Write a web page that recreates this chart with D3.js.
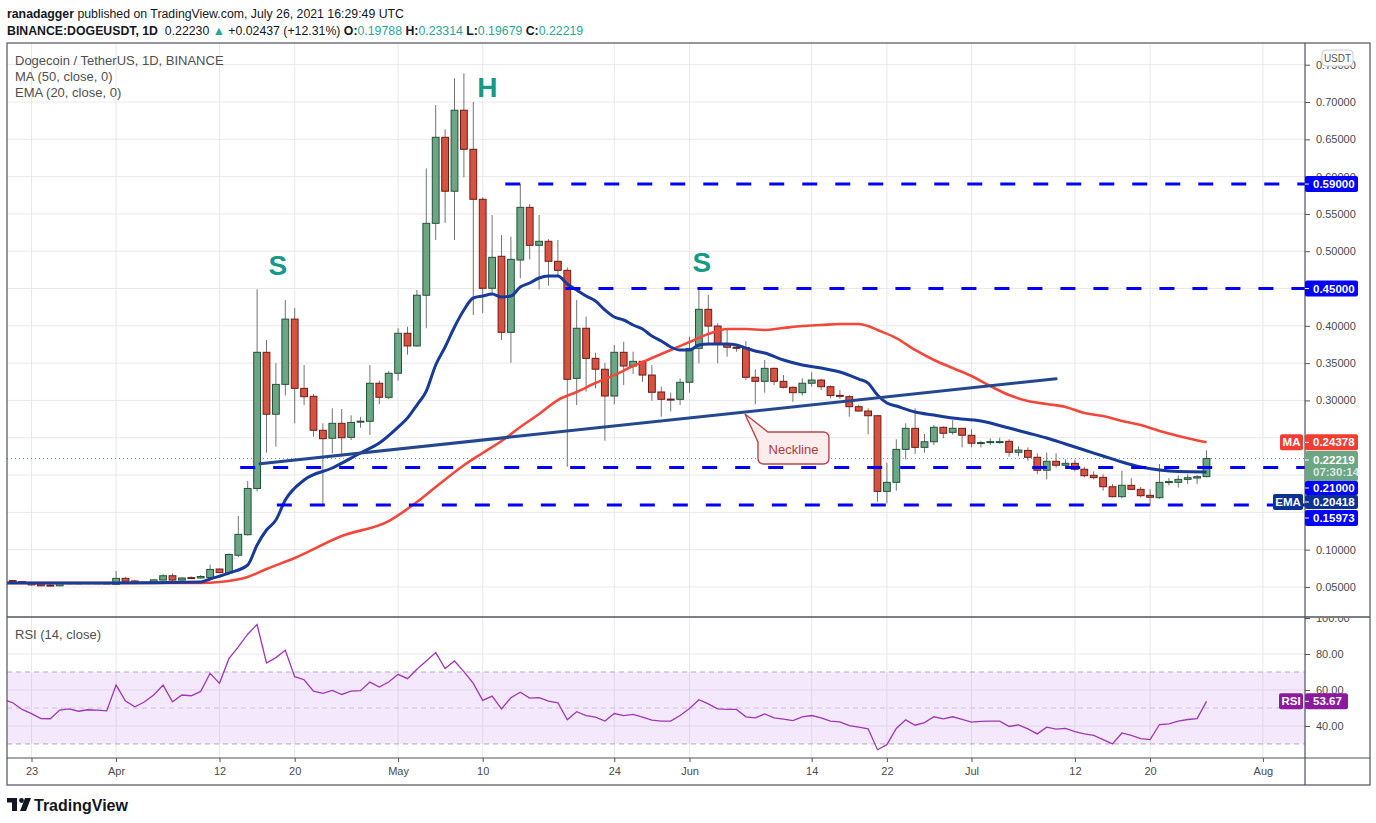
<!DOCTYPE html>
<html><head><meta charset="utf-8">
<script src="https://cdn.jsdelivr.net/npm/d3@7"></script>
<style>
body{margin:0;background:#fff;}
svg{display:block;font-family:"Liberation Sans",Arial,sans-serif;}
.ax text{font-size:11px;fill:#4a4a4a;font-family:"Liberation Sans",Arial,sans-serif;}
.ax line{stroke:#555;}
.ax .domain{display:none;}
</style></head><body>
<svg id="c" width="1376" height="823"></svg>
<script>
// ---------- DATA ----------
const startDate = "2021-03-21";   // day index 0
const opens = [
.0585,.0572,.0556,.0540,.0525,.0515,.0552,.0553,.0555,.0556,.0554,
.0535,.0615,.0580,.0555,.0563,.0592,.0650,.0592,.0625,.0620,
.0625,.0740,.0690,.0925,.1200,.1820,.3645,.2815,.3215,.4090,
.3162,.3055,.2600,.2493,.2693,.2505,.2712,.2720,.3230,.3042,
.3364,.3900,.3730,.4410,.5374,.6527,.5804,.6890,.6366,.5696,
.4503,.4932,.3913,.4882,.5588,.5079,.5133,.4865,.4744,.3296,
.3967,.3564,.3418,.3059,.3645,.3461,.3524,.3340,.3113,.3018,
.3015,.3243,.3698,.4221,.3997,.3752,.3712,.3710,.3310,.3256,
.3430,.3256,.3176,.3104,.3230,.3273,.3184,.3068,.3050,.2916,
.2858,.2795,.1781,.1902,.2344,.2626,.2371,.2446,.2640,.2572,
.2626,.2533,.2428,.2440,.2444,.2452,.2305,.2330,.2238,.2064,
.2184,.2131,.2157,.2077,.1996,.1969,.1843,.1710,.1862,.1808,
.1728,.1696,.1905,.1902,.1942,.1960,.19788];
const highs = [
.0595,.0580,.0562,.0548,.0545,.0562,.0565,.0562,.0562,.0560,.0560,
.0715,.0630,.0590,.0570,.0603,.0672,.0680,.0628,.0640,.0660,
.0800,.0745,.0950,.1450,.1920,.4490,.3810,.3500,.4346,.4239,
.3475,.3086,.2693,.2894,.2885,.2800,.2780,.3475,.3265,.3394,
.3967,.3988,.4480,.6110,.6960,.6634,.7318,.7385,.7000,.5723,
.5485,.5217,.5195,.5900,.5633,.5485,.5160,.5150,.4784,.4346,
.4122,.3639,.3505,.3743,.3787,.3653,.3532,.3475,.3184,.3105,
.3296,.3854,.4480,.4413,.4033,.3944,.3752,.3796,.3417,.3542,
.3440,.3340,.3185,.3296,.3377,.3290,.3200,.3140,.3072,.2940,
.2894,.2800,.2165,.2479,.2693,.2894,.2550,.2670,.2650,.2737,
.2630,.2613,.2460,.2490,.2500,.2480,.2385,.2370,.2291,.2300,
.2291,.2210,.2210,.2110,.2050,.2010,.1879,.2059,.1956,.1840,
.1808,.2148,.1960,.1996,.2010,.2000,.23314];
const lows = [
.0572,.0550,.0520,.0508,.0505,.0510,.0545,.0546,.0548,.0548,.0540,
.0530,.0570,.0548,.0552,.0558,.0585,.0580,.0585,.0612,.0612,
.0620,.0685,.0680,.0900,.1190,.1780,.2300,.2380,.3065,.2693,
.2938,.2513,.1594,.2290,.2246,.2469,.2635,.2536,.2948,.3015,
.3265,.3613,.3720,.3967,.5150,.5380,.5150,.5990,.4145,.4168,
.4413,.3810,.3505,.4637,.4891,.4489,.4538,.4681,.2112,.2938,
.3117,.3162,.2460,.2948,.3206,.3354,.3250,.2996,.2782,.2855,
.2938,.3104,.3497,.3765,.3497,.3586,.3653,.3273,.2948,.3104,
.3206,.3160,.2983,.3065,.3184,.3140,.3028,.3020,.2782,.2850,
.2546,.1642,.1620,.1790,.2210,.2282,.2300,.2402,.2492,.2540,
.2371,.2371,.2371,.2400,.2420,.2246,.2250,.2193,.2013,.1942,
.2100,.2100,.2050,.1969,.1942,.1790,.1700,.1690,.1800,.1700,
.1585,.1680,.1860,.1830,.1880,.1880,.19679];
const closes = [
.0575,.0556,.0527,.0515,.0522,.0555,.0556,.0555,.0557,.0553,.0552,
.0615,.0575,.0553,.0563,.0595,.0650,.0592,.0620,.0620,.0640,
.0735,.0692,.0935,.1205,.1820,.3645,.2815,.3215,.4090,.3162,
.3050,.2600,.2487,.2693,.2500,.2705,.2722,.3230,.3042,.3364,
.3900,.3730,.4410,.5374,.6527,.5804,.6890,.6366,.5696,.4503,
.4918,.3913,.4891,.5588,.5079,.5133,.4865,.4744,.3283,.3967,
.3564,.3418,.3059,.3645,.3461,.3524,.3340,.3109,.3015,.3012,
.3243,.3698,.4221,.3997,.3752,.3713,.3705,.3310,.3256,.3430,
.3256,.3176,.3104,.3230,.3273,.3184,.3065,.3055,.2916,.2858,
.2795,.1781,.1902,.2344,.2626,.2371,.2446,.2640,.2560,.2626,
.2533,.2426,.2435,.2448,.2448,.2305,.2335,.2238,.2064,.2184,
.2131,.2157,.2077,.1991,.1965,.1843,.1710,.1862,.1808,.1723,
.1702,.1902,.1912,.1942,.1964,.1978,.22219];

const emaDays = [-1,0,10,20,21,23,25,26,27,28,29,31,34,37,39,41,42,43,44,45,46,47,48,49,50,51,52,53,54,55,56,57,58,59,60,61,62,63,64,65,66,67,68,69,70,71,72,73,74,76,77,78,79,80,82,84,86,88,90,91,92,93,94,96,98,100,103,106,108,110,112,114,116,118,120,122,124,127];
const emaValues = [0.0552,0.0552,0.0552,0.0566,0.0606,0.0686,0.0794,0.1062,0.1263,0.1397,0.1665,0.1933,0.2094,0.2295,0.2429,0.2643,0.2764,0.2938,0.3126,0.3475,0.3716,0.3984,0.4212,0.4373,0.4399,0.4426,0.4386,0.4399,0.4520,0.4574,0.4641,0.4668,0.4668,0.4560,0.4480,0.4399,0.4332,0.4212,0.4118,0.4078,0.4011,0.3957,0.3863,0.3796,0.3716,0.3676,0.3676,0.3743,0.3756,0.3756,0.3743,0.3702,0.3662,0.3635,0.3542,0.3475,0.3434,0.3381,0.3287,0.3233,0.3072,0.2965,0.2925,0.2845,0.2804,0.2764,0.2724,0.2630,0.2563,0.2496,0.2416,0.2335,0.2255,0.2174,0.2107,0.2067,0.2047,0.20418];

const maDays = [-1,0,20,22,25,27,30,35,40,43,45,48,50,52,54,56,58,60,62,64,66,68,70,72,74,76,78,80,82,84,86,88,90,91,92,94,96,98,100,102,104,106,108,110,112,114,116,118,120,122,124,127];
const maValues = [0.0552,0.0552,0.0552,0.0566,0.0633,0.0740,0.0887,0.1182,0.1383,0.1638,0.1839,0.2131,0.2295,0.2456,0.2643,0.2818,0.3005,0.3113,0.3233,0.3340,0.3461,0.3568,0.3676,0.3783,0.3890,0.3957,0.3957,0.3944,0.3971,0.3997,0.4011,0.4024,0.4024,0.3997,0.3944,0.3836,0.3676,0.3542,0.3434,0.3327,0.3193,0.3072,0.2992,0.2952,0.2912,0.2831,0.2791,0.2724,0.2670,0.2590,0.2523,0.24378];

const rsiStartDay = -1;
const rsiValues = [54.7,
52.9,49.2,46.9,44.1,44.0,48.8,49.5,48.2,49.0,48.8,48.4,
62.7,53.8,50.7,53.3,57.2,62.7,53.4,57.2,56.8,59.2,
69.3,63.7,77.4,84.0,91.0,96.4,75.0,78.0,82.1,67.4,
65.7,59.4,58.1,59.8,57.5,59.4,59.6,64.4,61.6,64.4,
68.7,66.3,71.5,76.1,80.8,71.9,76.1,70.2,63.7,54.2,
56.6,49.5,55.7,58.8,55.5,55.7,53.8,52.9,43.4,47.9,
45.8,44.9,42.7,46.9,45.8,46.4,44.9,43.2,42.7,42.7,
45.8,49.7,54.6,52.3,49.5,49.2,49.2,45.1,44.5,46.7,
44.5,43.8,43.0,45.1,45.8,44.5,42.7,42.3,40.2,39.3,
38.4,26.8,29.6,38.6,43.4,40.4,41.9,45.1,44.0,45.1,
43.6,42.1,42.5,42.7,42.7,39.7,40.6,38.4,35.6,39.3,
38.2,38.7,36.9,35.6,34.8,32.4,30.0,36.1,34.8,33.0,
32.4,40.8,41.2,42.7,43.6,44.1,53.67];

const priceTicks = [0.05,0.10,0.15,0.20,0.25,0.30,0.35,0.40,0.45,0.50,0.55,0.60,0.65,0.70,0.75];
const hiddenPriceLabels = [0.15,0.20,0.25,0.45];   // covered by the coloured tags in the reference
const rsiTicks = [40,60,80,100];
const rsiGrid = [40,60,80];
const rsiLevels = [70,50,30];
const dateTicks = ["2021-03-23","2021-04-01","2021-04-12","2021-04-20","2021-05-01","2021-05-10","2021-05-24","2021-06-01","2021-06-14","2021-06-22","2021-07-01","2021-07-12","2021-07-20","2021-08-01"];
const dateLabels = ["23","Apr","12","20","May","10","24","Jun","14","22","Jul","12","20","Aug"];

const levelValues = [0.59,0.45,0.21,0.15973];
const levelStartDays = [52.4,58.8,24.2,28.1];
const necklineDays = [26.3,111.0];
const necklineValues = [0.2150,0.3290];
const annoTexts = ["S","H","S"];
const annoDays = [28.2,50.5,73.3];
const annoValues = [0.4815,0.7188,0.4855];
const calloutDay = 77.9, calloutValue = 0.2818, calloutText = "Neckline";

const lastPrice = 0.22219, maLast = 0.24378, emaLast = 0.20418, rsiLast = 53.67;

// ---------- SCALES ----------
const day0 = Date.parse(startDate + "T00:00:00Z");
const dayDate = d => new Date(day0 + d * 864e5);
const x = d3.scaleUtc().domain([dayDate(0), dayDate(133)]).range([12.7, 1262.9]);
const xd = d => x(dayDate(d));
const y = d3.scaleLinear().domain([0.0097, 0.7791]).range([617, 43]);
const yr = d3.scaleLinear().domain([22.2, 100]).range([758, 618]);

const L = 7, R = 1305, T = 43, MB = 617, RB = 758, AB = 785, OR = 1370;
const svg = d3.select("#c");
svg.append("rect").attr("width",1376).attr("height",823).attr("fill","#fff");
const defs = svg.append("defs");
defs.append("clipPath").attr("id","cm").append("rect").attr("x",L).attr("y",T).attr("width",R-L).attr("height",MB-T);
defs.append("clipPath").attr("id","cr").append("rect").attr("x",L).attr("y",MB).attr("width",R-L).attr("height",RB-MB);
defs.append("clipPath").attr("id","cpa").append("rect").attr("x",R).attr("y",T+1).attr("width",OR-R).attr("height",MB-T-1);
defs.append("clipPath").attr("id","cra").append("rect").attr("x",R).attr("y",MB+1).attr("width",OR-R).attr("height",RB-MB-1);

// ---------- GRID ----------
const gridColor = "#e9e9ea";
const g = svg.append("g");
g.selectAll(".hg").data(priceTicks).join("line")
  .attr("x1",L).attr("x2",R).attr("y1",d=>y(d)).attr("y2",d=>y(d)).attr("stroke",gridColor);
g.selectAll(".vg").data(dateTicks).join("line")
  .attr("x1",d=>x(new Date(d+"T00:00:00Z"))).attr("x2",d=>x(new Date(d+"T00:00:00Z")))
  .attr("y1",T).attr("y2",RB).attr("stroke",gridColor);
g.selectAll(".rg").data(rsiGrid).join("line")
  .attr("x1",L).attr("x2",R).attr("y1",d=>yr(d)).attr("y2",d=>yr(d)).attr("stroke",gridColor);

// RSI band
svg.append("rect").attr("x",L).attr("width",R-L).attr("y",yr(70)).attr("height",yr(30)-yr(70))
  .attr("fill","rgba(150,40,230,0.1)");
svg.selectAll(".rl").data(rsiLevels).join("line")
  .attr("x1",L).attr("x2",R).attr("y1",d=>yr(d)).attr("y2",d=>yr(d))
  .attr("stroke",d=>d===50?"#cbbfd3":"#b3a8ba").attr("stroke-dasharray","5,4");

// ---------- MAIN PANE ----------
const m = svg.append("g").attr("clip-path","url(#cm)");
m.append("line").attr("x1",L).attr("x2",R).attr("y1",y(lastPrice)).attr("y2",y(lastPrice))
  .attr("stroke","#6b9c84").attr("stroke-dasharray","1,3");

const candles = opens.map((o,i)=>({i,o,h:highs[i],l:lows[i],c:closes[i]}));
const cg = m.append("g");
cg.selectAll(".w").data(candles).join("line")
  .attr("x1",d=>xd(d.i)).attr("x2",d=>xd(d.i)).attr("y1",d=>y(d.h)).attr("y2",d=>y(d.l))
  .attr("stroke","#737375").attr("stroke-width",1);
cg.selectAll(".b").data(candles).join("rect")
  .attr("x",d=>xd(d.i)-3.4).attr("width",6.8)
  .attr("y",d=>y(Math.max(d.o,d.c)))
  .attr("height",d=>Math.max(1,Math.abs(y(d.o)-y(d.c))))
  .attr("fill",d=>d.c>=d.o?"#6ca684":"#d65241")
  .attr("stroke",d=>d.c>=d.o?"#22533a":"#6e1c16").attr("stroke-width",1);

const lineGen = d3.line().x(d=>xd(d[0])).y(d=>y(d[1])).curve(d3.curveMonotoneX);
m.append("path").attr("d",lineGen(maDays.map((d,i)=>[d,maValues[i]])))
  .attr("fill","none").attr("stroke","#f4473b").attr("stroke-width",2.6);
m.append("path").attr("d",lineGen(emaDays.map((d,i)=>[d,emaValues[i]])))
  .attr("fill","none").attr("stroke","#183a98").attr("stroke-width",3);

// neckline
m.append("line").attr("x1",xd(necklineDays[0])).attr("y1",y(necklineValues[0]))
  .attr("x2",xd(necklineDays[1])).attr("y2",y(necklineValues[1]))
  .attr("stroke","#24488f").attr("stroke-width",3).attr("stroke-linecap","round");

// horizontal levels
m.selectAll(".lv").data(levelValues).join("line")
  .attr("x1",(d,i)=>xd(levelStartDays[i])).attr("x2",R)
  .attr("y1",d=>y(d)).attr("y2",d=>y(d))
  .attr("stroke","#0000ff").attr("stroke-width",3).attr("stroke-dasharray","15,18");

// S / H / S labels
m.selectAll(".an").data(annoTexts).join("text")
  .attr("x",(d,i)=>xd(annoDays[i])).attr("y",(d,i)=>y(annoValues[i]))
  .attr("text-anchor","middle").attr("dominant-baseline","central")
  .attr("font-size",28).attr("font-weight","bold").attr("fill","#16998a").text(d=>d);

// neckline callout
{
  const tx = xd(calloutDay), ty = y(calloutValue);
  const bx = tx+13, by = ty+18, bw = 71, bh = 32, r = 6;
  const p = `M${tx},${ty} L${bx+10},${by} L${bx+bw-r},${by} Q${bx+bw},${by} ${bx+bw},${by+r} L${bx+bw},${by+bh-r} Q${bx+bw},${by+bh} ${bx+bw-r},${by+bh} L${bx+r},${by+bh} Q${bx},${by+bh} ${bx},${by+bh-r} L${bx},${by+10} Z`;
  m.append("path").attr("d",p).attr("fill","#fcecec").attr("stroke","#b4474a").attr("stroke-width",1.4);
  m.append("text").attr("x",bx+bw/2).attr("y",by+bh/2+1).attr("text-anchor","middle")
    .attr("dominant-baseline","central").attr("font-size",13).attr("fill","#ab3b3d").text(calloutText);
}

// ---------- RSI PANE ----------
const rg = svg.append("g").attr("clip-path","url(#cr)");
rg.append("path").attr("d",d3.line().x((d,i)=>xd(rsiStartDay+i)).y(d=>yr(d))(rsiValues))
  .attr("fill","none").attr("stroke","#a035b5").attr("stroke-width",1.3);

// ---------- FRAME ----------
const fc = "#50535e";
svg.append("rect").attr("x",L).attr("y",T).attr("width",OR-L).attr("height",AB-T)
  .attr("fill","none").attr("stroke",fc).attr("stroke-width",1.2);
svg.append("line").attr("x1",L).attr("x2",OR).attr("y1",MB).attr("y2",MB).attr("stroke",fc).attr("stroke-width",1.6);
svg.append("line").attr("x1",L).attr("x2",OR).attr("y1",RB).attr("y2",RB).attr("stroke",fc).attr("stroke-width",1.2);
svg.append("line").attr("x1",R).attr("x2",R).attr("y1",T).attr("y2",AB).attr("stroke",fc).attr("stroke-width",1.2);

// ---------- AXES ----------
const f5 = d3.format(".5f");
svg.append("g").attr("clip-path","url(#cpa)").append("g").attr("class","ax").attr("transform",`translate(${R},0)`)
  .call(d3.axisRight(y).tickValues(priceTicks).tickFormat(d=>hiddenPriceLabels.includes(d)?"":f5(d)).tickSize(5).tickPadding(6))
  .call(s=>s.select(".domain").remove());
svg.append("g").attr("clip-path","url(#cra)").append("g").attr("class","ax").attr("transform",`translate(${R},0)`)
  .call(d3.axisRight(yr).tickValues(rsiTicks).tickFormat(d3.format(".2f")).tickSize(5).tickPadding(6))
  .call(s=>s.select(".domain").remove());
svg.append("g").attr("class","ax").attr("transform",`translate(0,${RB})`)
  .call(d3.axisBottom(x).tickValues(dateTicks.map(d=>new Date(d+"T00:00:00Z"))).tickFormat((d,i)=>dateLabels[i]).tickSize(4).tickPadding(5))
  .call(s=>s.select(".domain").remove());

// ---------- PRICE LABELS ----------
function box(cy, h, fill, lines, w=53){
  const gg = svg.append("g");
  gg.append("rect").attr("x",R).attr("y",cy-h/2).attr("width",w).attr("height",h).attr("rx",2).attr("fill",fill);
  gg.append("line").attr("x1",R).attr("x2",R+4).attr("y1",cy-(lines.length-1)*6).attr("y2",cy-(lines.length-1)*6).attr("stroke","#fff");
  lines.forEach((t,k)=>{
    gg.append("text").attr("x",R+8).attr("y",cy-(lines.length-1)*6+k*12).attr("dominant-baseline","central")
      .attr("font-size",11.5).attr("font-weight","bold").attr("fill",k===1?"#dbe9e0":"#fff").text(t);
  });
}
box(y(0.59),16,"#0000ff",[f5(0.59)]);
box(y(0.45),16,"#0000ff",[f5(0.45)]);
box(y(maLast),16,"#f23d33",[f5(maLast)]);
box(466,30,"#6ca684",[f5(lastPrice),"07:30:14"]);
box(488,14,"#0000ff",[f5(0.21)]);
box(502,14,"#0c3195",[f5(emaLast)]);
box(518,16,"#0000ff",[f5(0.15973)]);
box(yr(rsiLast),16,"#8c1a9d",[d3.format(".2f")(rsiLast)],43);
// side tags
function tag(cy, x0, w, fill, t){
  svg.append("rect").attr("x",x0).attr("y",cy-8).attr("width",w).attr("height",16).attr("rx",2).attr("fill",fill);
  svg.append("text").attr("x",x0+w/2).attr("y",cy).attr("text-anchor","middle").attr("dominant-baseline","central")
    .attr("font-size",11.5).attr("font-weight","bold").attr("fill","#fff").text(t);
}
tag(y(maLast),1280,23,"#f23d33","MA");
tag(502,1273,30,"#0c3195","EMA");
tag(yr(rsiLast),1279,24,"#8c1a9d","RSI");

// USDT button
svg.append("rect").attr("x",1322).attr("y",50).attr("width",31).attr("height",16).attr("rx",4)
  .attr("fill","#fff").attr("stroke","#c9cbd1");
svg.append("text").attr("x",1337.5).attr("y",58).attr("text-anchor","middle").attr("dominant-baseline","central")
  .attr("font-size",10).attr("fill","#555").text("USDT");

// ---------- HEADER & LEGENDS ----------
const h1 = svg.append("text").attr("x",7).attr("y",18).attr("font-size",12.3).attr("fill","#131722").style("white-space","pre");
h1.append("tspan").attr("font-weight","bold").text("ranadagger");
h1.append("tspan").text(" published on TradingView.com, July 26, 2021 16:29:49 UTC");
const teal = "#26a69a";
const h2 = svg.append("text").attr("x",7).attr("y",34.5).attr("font-size",12.3).attr("fill","#131722").style("white-space","pre");
h2.append("tspan").attr("font-weight","bold").text("BINANCE:DOGEUSDT, 1D");
h2.append("tspan").text("  0.22230 ");
h2.append("tspan").attr("fill",teal).text("▲");
h2.append("tspan").text(" +0.02437 (+12.31%) ");
[["O:","0.19788"],["H:","0.23314"],["L:","0.19679"],["C:","0.22219"]].forEach((p,k)=>{
  h2.append("tspan").attr("font-weight","bold").text((k?" ":"")+p[0]);
  h2.append("tspan").attr("fill",teal).text(p[1]);
});
const legend = ["Dogecoin / TetherUS, 1D, BINANCE","MA (50, close, 0)","EMA (20, close, 0)"];
svg.selectAll(".lg").data(legend).join("text").attr("x",15).attr("y",(d,i)=>65+i*16)
  .attr("font-size",13).attr("fill","#4f4f4f").text(d=>d);
svg.append("text").attr("x",15).attr("y",639).attr("font-size",13).attr("fill","#4f4f4f").text("RSI (14, close)");

// TradingView logo
const lg = svg.append("g").attr("fill","#131722");
lg.append("rect").attr("x",7).attr("y",798).attr("width",10).attr("height",4.5);
lg.append("rect").attr("x",12).attr("y",798).attr("width",5).attr("height",13);
lg.append("circle").attr("cx",21.5).attr("cy",800.5).attr("r",2.4);
lg.append("path").attr("d","M25,798 L31,798 L26,811 L20,811 Z");
svg.append("text").attr("x",34).attr("y",810.5).attr("font-size",16).attr("font-weight","bold").attr("fill","#131722").text("TradingView");
</script>
</body></html>
